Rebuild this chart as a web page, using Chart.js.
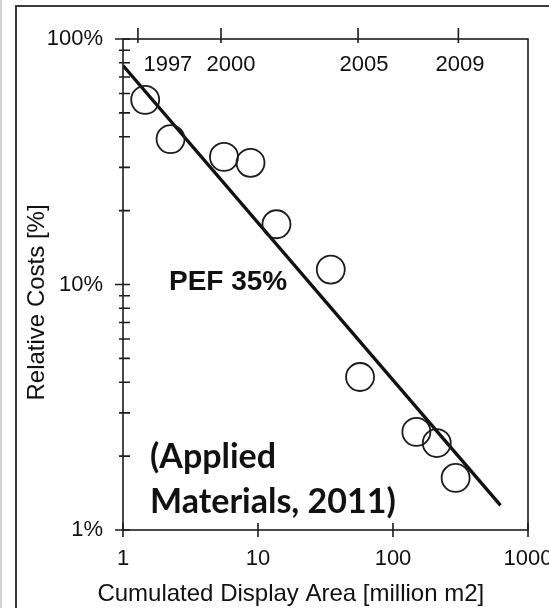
<!DOCTYPE html>
<html>
<head>
<meta charset="utf-8">
<script src="https://cdn.jsdelivr.net/npm/chart.js@4.4.1/dist/chart.umd.min.js"></script>
<style>
html, body { margin: 0; padding: 0; background: #fff; }
#wrap { width: 549px; height: 608px; }
</style>
</head>
<body>
<div id="wrap"><canvas id="costChart" width="549" height="608"></canvas></div>
<script>
// values
var areaValues = [1.46, 2.25, 5.6, 8.8, 13.7, 34.6, 57, 149, 211, 291];
var costValues = [56.5, 39.1, 33.1, 31.3, 17.6, 11.5, 4.2, 2.51, 2.26, 1.63];
var trendArea = [1, 626];
var trendCost = [78, 1.26];
var xTicks = [1, 10, 100, 1000];
var yTicks = [1, 10, 100];
var yMinorTicks = [2, 3, 4, 5, 6, 7, 8, 9, 20, 30, 40, 50, 60, 70, 80, 90];
var years = ['1997', '2000', '2005', '2009'];
var yearArea = [1.29, 5.32, 55.1, 305];
var yearLabelArea = [2.15, 6.31, 61, 313];

var ink = '#111';

var framePlugin = {
    id: 'frame',
    beforeDraw: function(chart) {
        var ctx = chart.ctx;
        ctx.save();
        ctx.fillStyle = '#fff';
        ctx.fillRect(0, 0, chart.width, chart.height);
        ctx.fillStyle = '#d2d2d2';
        ctx.fillRect(0, 0, 2, chart.height);
        ctx.strokeStyle = '#3a3a3a';
        ctx.lineWidth = 2;
        ctx.beginPath();
        ctx.moveTo(16, chart.height);
        ctx.lineTo(16, 6);
        ctx.lineTo(chart.width, 6);
        ctx.stroke();
        ctx.restore();
    },
    afterDatasetsDraw: function(chart) {
        var ctx = chart.ctx;
        var a = chart.chartArea;
        var xs = chart.scales.x;
        var ys = chart.scales.y;
        ctx.save();
        ctx.strokeStyle = '#1c1c1c';
        ctx.lineWidth = 1.6;
        ctx.strokeRect(a.left, a.top, a.right - a.left, a.bottom - a.top);
        ctx.beginPath();
        yTicks.forEach(function(v) {
            var py = ys.getPixelForValue(v);
            ctx.moveTo(a.left - 8, py);
            ctx.lineTo(a.left + 7, py);
        });
        yMinorTicks.forEach(function(v) {
            var py = ys.getPixelForValue(v);
            ctx.moveTo(a.left - 4, py);
            ctx.lineTo(a.left + 7, py);
        });
        xTicks.forEach(function(v) {
            var px = xs.getPixelForValue(v);
            ctx.moveTo(px, a.bottom - 7);
            ctx.lineTo(px, a.bottom + 7);
        });
        yearArea.forEach(function(v) {
            var px = xs.getPixelForValue(v);
            ctx.moveTo(px, a.top - 11);
            ctx.lineTo(px, a.top + 4);
        });
        ctx.stroke();

        ctx.fillStyle = ink;
        ctx.textAlign = 'center';
        ctx.textBaseline = 'alphabetic';
        ctx.font = '22px "Liberation Sans", Arial, sans-serif';
        years.forEach(function(y, i) {
            ctx.fillText(y, xs.getPixelForValue(yearLabelArea[i]), a.top + 32);
        });

        ctx.textAlign = 'left';
        ctx.font = 'bold 28px "Liberation Sans", Arial, sans-serif';
        ctx.fillText('PEF 35%', xs.getPixelForValue(2.19), ys.getPixelForValue(9.5));

        ctx.font = 'bold 34px Lato, "Open Sans", sans-serif';
        ctx.fillText('(Applied', xs.getPixelForValue(1.585), ys.getPixelForValue(1.79));
        ctx.fillText('Materials, 2011)', xs.getPixelForValue(1.585), ys.getPixelForValue(1.17));

        // axis titles
        ctx.textAlign = 'center';
        ctx.font = '24px "Liberation Sans", Arial, sans-serif';
        ctx.fillText('Cumulated Display Area [million m2]', xs.getPixelForValue(17.5), chart.height - 7);
        ctx.translate(37, ys.getPixelForValue(8.45));
        ctx.rotate(-Math.PI / 2);
        ctx.textBaseline = 'middle';
        ctx.fillText('Relative Costs [%]', 0, 0);
        ctx.restore();
    }
};

function drawChart() {
    var ctx = document.getElementById('costChart').getContext('2d');
    var points = areaValues.map(function(v, i) { return {x: v, y: costValues[i]}; });
    var trend = trendArea.map(function(v, i) { return {x: v, y: trendCost[i]}; });
    var tickFont = {family: '"Liberation Sans", Arial, sans-serif', size: 22};

    new Chart(ctx, {
        type: 'scatter',
        data: {
            datasets: [
                {
                    label: 'Relative costs',
                    data: points,
                    pointRadius: 14,
                    pointHoverRadius: 14,
                    pointBorderWidth: 1.8,
                    pointBorderColor: '#1c1c1c',
                    pointBackgroundColor: 'rgba(0,0,0,0)'
                },
                {
                    label: 'PEF 35%',
                    data: trend,
                    showLine: true,
                    borderColor: ink,
                    borderWidth: 3.4,
                    pointRadius: 0
                }
            ]
        },
        options: {
            responsive: false,
            devicePixelRatio: 1,
            animation: false,
            layout: {padding: {top: 39, right: 21, bottom: 0, left: 0}},
            plugins: {
                legend: {display: false},
                tooltip: {enabled: false}
            },
            scales: {
                x: {
                    type: 'logarithmic',
                    min: 1,
                    max: 1000,
                    grid: {display: false, drawTicks: false},
                    border: {display: false},
                    ticks: {
                        color: ink,
                        font: tickFont,
                        padding: 16,
                        autoSkip: false,
                        maxRotation: 0,
                        callback: function(v) { return String(v); }
                    },
                    afterBuildTicks: function(s) {
                        s.ticks = xTicks.map(function(v) { return {value: v}; });
                    },
                    afterFit: function(s) {
                        s.height = 78;
                        s.paddingLeft = 0;
                        s.paddingRight = 0;
                    }
                },
                y: {
                    type: 'logarithmic',
                    min: 1,
                    max: 100,
                    grid: {display: false, drawTicks: false},
                    border: {display: false},
                    ticks: {
                        color: ink,
                        font: tickFont,
                        padding: 20,
                        autoSkip: false,
                        callback: function(v) { return v + '%'; }
                    },
                    afterBuildTicks: function(s) {
                        s.ticks = yTicks.map(function(v) { return {value: v}; });
                    },
                    afterFit: function(s) {
                        s.width = 123;
                        s.paddingTop = 0;
                        s.paddingBottom = 0;
                    }
                }
            }
        },
        plugins: [framePlugin]
    });
}

drawChart();
</script>
</body>
</html>
